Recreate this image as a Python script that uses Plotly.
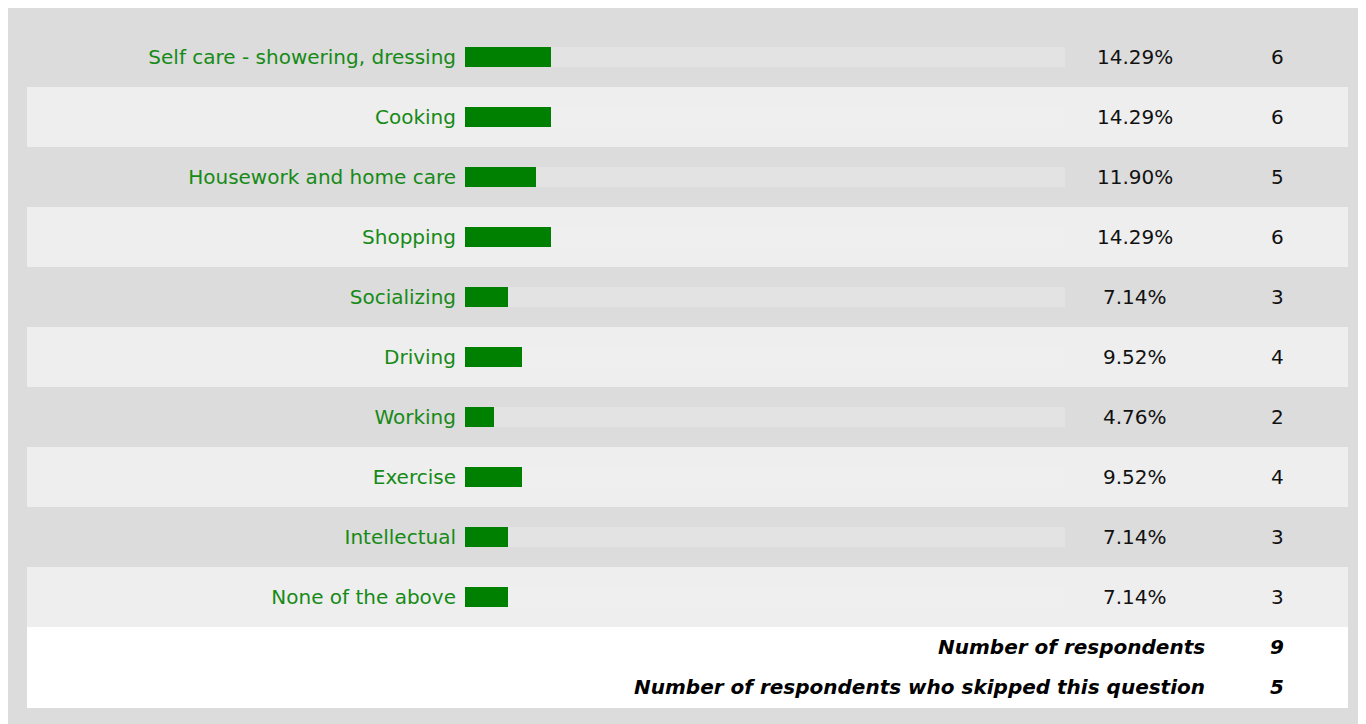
import plotly.graph_objects as go

categories = ["Self care - showering, dressing", "Cooking", "Housework and home care",
              "Shopping", "Socializing", "Driving", "Working", "Exercise",
              "Intellectual", "None of the above"]
percents = [14.29, 14.29, 11.90, 14.29, 7.14, 9.52, 4.76, 9.52, 7.14, 7.14]
counts = [6, 6, 5, 6, 3, 4, 2, 4, 3, 3]
track_max = 100
summary_labels = ["Number of respondents", "Number of respondents who skipped this question"]
summary_values = [9, 5]

# the page body has an 8px margin; the figure is sized to fill the rest of the window
OFF = 8
W, H = 1366 - OFF, 724 - OFF
GREEN = "#008000"
TEXT_GREEN = "#168a16"
FONT = "DejaVu Sans"
FS = 20

def px(x):
    return (x - OFF) / W

def py(y):
    return 1 - (y - OFF) / H

fig = go.Figure()
fig.add_trace(go.Bar(
    y=categories, x=[track_max] * len(categories), orientation="h",
    marker=dict(color="rgba(240,240,240,0.35)", line=dict(width=0)),
    width=0.34, hoverinfo="skip", showlegend=False))
fig.add_trace(go.Bar(
    y=categories, x=percents, orientation="h",
    marker=dict(color=GREEN, line=dict(width=0)),
    width=0.34, hoverinfo="skip", showlegend=False))

shapes = [dict(type="rect", xref="paper", yref="paper", x0=0, x1=1, y0=0, y1=1,
               fillcolor="#dcdcdc", line=dict(width=0), layer="below")]
for i, c in enumerate(categories):
    if i % 2 == 1:
        shapes.append(dict(type="rect", xref="paper", yref="y", x0=px(27), x1=px(1348),
                           y0=i - 0.5, y1=i + 0.5, fillcolor="#eeeeee",
                           line=dict(width=0), layer="below"))
shapes.append(dict(type="rect", xref="paper", yref="paper", x0=px(27), x1=px(1348),
                   y0=py(708), y1=py(627), fillcolor="#ffffff", line=dict(width=0),
                   layer="below"))

annotations = []
for i, c in enumerate(categories):
    annotations.append(dict(x=px(1135), xref="paper", y=c, yref="y",
                            text=f"{percents[i]:.2f}%", showarrow=False,
                            xanchor="center", yanchor="middle",
                            font=dict(family=FONT, size=FS, color="#111111")))
    annotations.append(dict(x=px(1277), xref="paper", y=c, yref="y",
                            text=str(counts[i]), showarrow=False,
                            xanchor="center", yanchor="middle",
                            font=dict(family=FONT, size=FS, color="#111111")))
for j, (lab, val) in enumerate(zip(summary_labels, summary_values)):
    yy = py(647 + 40 * j)
    annotations.append(dict(x=px(1207), xref="paper", y=yy, yref="paper",
                            text=f"<b><i>{lab}</i></b>", showarrow=False,
                            xanchor="right", yanchor="middle",
                            font=dict(family=FONT, size=FS, color="#000000")))
    annotations.append(dict(x=px(1277), xref="paper", y=yy, yref="paper",
                            text=f"<b><i>{val}</i></b>", showarrow=False,
                            xanchor="center", yanchor="middle",
                            font=dict(family=FONT, size=FS, color="#000000")))

fig.update_layout(
    width=W, height=H, margin=dict(l=0, r=0, t=0, b=0),
    paper_bgcolor="#ffffff", plot_bgcolor="rgba(0,0,0,0)",
    barmode="overlay", bargap=0,
    shapes=shapes, annotations=annotations,
    xaxis=dict(domain=[px(465), px(1065)], range=[0, track_max], visible=False, fixedrange=True),
    yaxis=dict(type="category", categoryorder="array", categoryarray=categories,
               range=[(H - (57 - OFF)) / 60, -(57 - OFF) / 60], domain=[0, 1],
               showgrid=False, zeroline=False, showline=False,
               ticks="outside", ticklen=4, tickcolor="rgba(0,0,0,0)",
               tickfont=dict(family=FONT, size=FS, color=TEXT_GREEN), fixedrange=True),
    font=dict(family=FONT),
)

fig.write_html("out.html")
